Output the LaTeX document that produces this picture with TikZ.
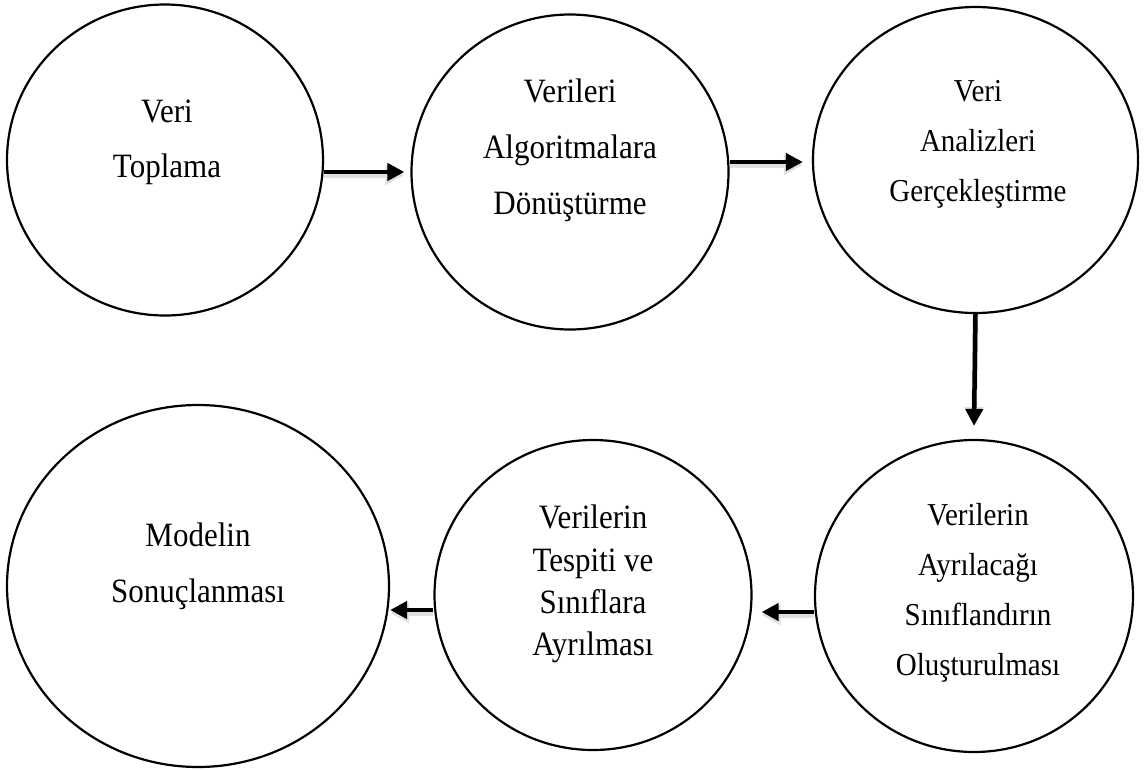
\documentclass[tikz,border=0pt]{standalone}
\usepackage{fontspec}
\usepackage{graphicx}
\setmainfont{Liberation Serif}
\usetikzlibrary{shapes.geometric,arrows.meta}
\newcommand\tl[1]{\scalebox{1}[1.1]{#1}}
\tikzset{
  bubble/.style={ellipse, draw, line width=2.2pt, inner sep=0pt},
  label/.style={align=center, inner sep=0pt},
  arr/.style={line width=4.5pt, -{Triangle[length=17pt,width=17pt]}},
  shade/.style={line width=6pt, draw=black!12, -{Triangle[length=19pt,width=19pt]}}
}
\begin{document}
\begin{tikzpicture}[x=1pt,y=-1pt]
\useasboundingbox (0,0) rectangle (1144,769);
\fill[white] (0,0) rectangle (1144,769);
% bubbles
\node[bubble, minimum width=316pt, minimum height=311pt] (e1) at (165,160) {};
\node[bubble, minimum width=317pt, minimum height=315pt] (e2) at (570,172) {};
\node[bubble, minimum width=325pt, minimum height=306pt] (e3) at (975.5,160) {};
\node[bubble, minimum width=318pt, minimum height=312pt] (e4) at (974,596) {};
\node[bubble, minimum width=317pt, minimum height=310pt] (e5) at (593,595) {};
\node[bubble, minimum width=382pt, minimum height=362pt] (e6) at (198,586) {};
% texts
\node[label, font={\fontsize{31}{55}\selectfont}] (t1) at (167,142) {\tl{Veri}\\\tl{Toplama}};
\node[label, font={\fontsize{31}{56}\selectfont}] (t2) at (570,150) {\tl{Verileri}\\\tl{Algoritmalara}\\\tl{Dönüştürme}};
\node[label, font={\fontsize{29}{50}\selectfont}] (t3) at (978,144) {\tl{Veri}\\\tl{Analizleri}\\\tl{Gerçekleştirme}};
\node[label, font={\fontsize{29}{50}\selectfont}] (t4) at (978,593) {\tl{Verilerin}\\\tl{Ayrılacağı}\\\tl{Sınıflandırın}\\\tl{Oluşturulması}};
\node[label, font={\fontsize{31}{42.3}\selectfont}] (t5) at (593,584) {\tl{Verilerin}\\\tl{Tespiti ve}\\\tl{Sınıflara}\\\tl{Ayrılması}};
\node[label, font={\fontsize{31}{56}\selectfont}] (t6) at (198,566) {\tl{Modelin}\\\tl{Sonuçlanması}};
% arrow shadows
\begin{scope}[shift={(2,3)}]
\draw[shade] (e1.east |- 0,172) -- ([xshift=-6pt]e2.west |- 0,172);
\draw[shade] (e2.east |- 0,162) -- ([xshift=-9pt]e3.west |- 0,162);
\draw[shade] (e3.south) -- ([yshift=13pt]e4.north);
\draw[shade] (e4.west |- 0,612) -- ([xshift=9pt]e5.east |- 0,612);
\draw[shade] (e5.west |- 0,610) -- (e6.east |- 0,610);
\end{scope}
% arrows
\draw[arr] (e1.east |- 0,172) -- ([xshift=-6pt]e2.west |- 0,172);
\draw[arr] (e2.east |- 0,162) -- ([xshift=-9pt]e3.west |- 0,162);
\draw[arr] (e3.south) -- ([yshift=13pt]e4.north);
\draw[arr] (e4.west |- 0,612) -- ([xshift=9pt]e5.east |- 0,612);
\draw[arr] (e5.west |- 0,610) -- (e6.east |- 0,610);
\end{tikzpicture}
\end{document}
